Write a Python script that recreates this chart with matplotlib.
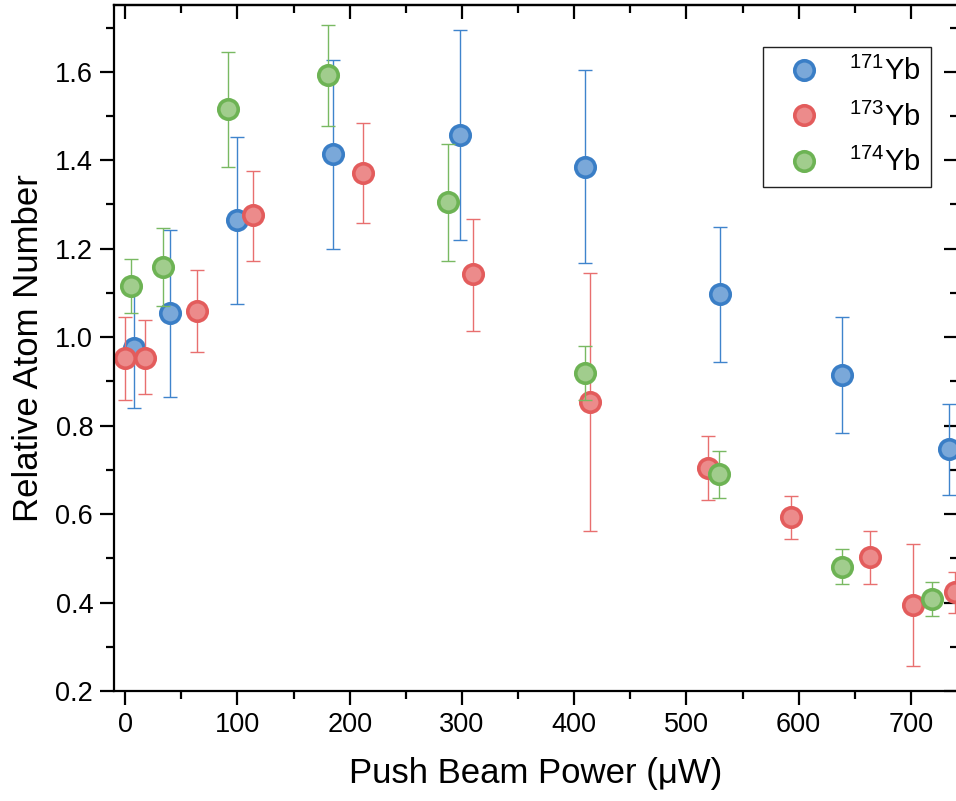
import numpy as np
import matplotlib
matplotlib.use('Agg')
import matplotlib.pyplot as plt
from matplotlib.ticker import MultipleLocator, FormatStrFormatter
from matplotlib.lines import Line2D

plt.rcParams['font.family'] = ['Liberation Sans', 'DejaVu Sans']
plt.rcParams['mathtext.fontset'] = 'custom'
plt.rcParams['mathtext.rm'] = 'Liberation Sans'
plt.rcParams['mathtext.it'] = 'Liberation Sans'

# 171Yb
x171 = [8, 40, 100, 185, 298, 410, 530, 639, 734]
y171 = [0.975, 1.055, 1.265, 1.413, 1.457, 1.385, 1.097, 0.915, 0.747]
lo171 = [0.839, 0.865, 1.075, 1.199, 1.219, 1.167, 0.943, 0.783, 0.643]
hi171 = [1.106, 1.242, 1.453, 1.626, 1.694, 1.603, 1.250, 1.046, 0.850]

# 173Yb
x173 = [0, 18, 64, 114, 212, 310, 414, 519, 593, 664, 702, 739]
y173 = [0.954, 0.954, 1.059, 1.276, 1.372, 1.142, 0.854, 0.705, 0.593, 0.502, 0.394, 0.424]
lo173 = [0.858, 0.871, 0.966, 1.173, 1.259, 1.015, 0.562, 0.632, 0.543, 0.442, 0.257, 0.376]
hi173 = [1.045, 1.039, 1.152, 1.376, 1.485, 1.268, 1.144, 0.777, 0.641, 0.561, 0.532, 0.469]

# 174Yb
x174 = [5, 34, 92, 181, 288, 410, 529, 639, 719]
y174 = [1.115, 1.159, 1.516, 1.592, 1.305, 0.920, 0.690, 0.481, 0.408]
lo174 = [1.054, 1.071, 1.385, 1.478, 1.172, 0.858, 0.637, 0.442, 0.370]
hi174 = [1.176, 1.247, 1.644, 1.705, 1.436, 0.980, 0.743, 0.520, 0.446]

series = [
    (x171, y171, lo171, hi171, r'$^{171}\mathrm{Yb}$', '#7aa8d9', '#3a7ec6', '#3f84cc'),
    (x173, y173, lo173, hi173, r'$^{173}\mathrm{Yb}$', '#ec8b8b', '#e35c5c', '#e86f6f'),
    (x174, y174, lo174, hi174, r'$^{174}\mathrm{Yb}$', '#a1cd8d', '#6db354', '#79b962'),
]

fig = plt.figure(figsize=(9.56, 8.01), dpi=100)
W, H = 956, 801
ax = fig.add_axes([114 / W, (H - 691) / H, (958 - 114) / W, (691 - 5) / H])

handles = []
for x, y, lo, hi, lab, face, edge, ecol in series:
    x = np.array(x)
    y = np.array(y)
    yerr = [y - np.array(lo), np.array(hi) - y]
    ax.errorbar(x, y, yerr=yerr, fmt='none', ecolor=ecol, elinewidth=1.0,
                capsize=5, capthick=1.0)
    ax.plot(x, y, ls='none', marker='o', ms=14, mfc=face, mec=edge, mew=2.6)
    handles.append(Line2D([], [], ls='none', marker='o', ms=14, mfc=face,
                          mec=edge, mew=2.6, label=lab))

ax.set_xlim(-10, 742)
ax.set_ylim(0.2, 1.751)
ax.xaxis.set_major_locator(MultipleLocator(100))
ax.xaxis.set_minor_locator(MultipleLocator(50))
ax.yaxis.set_major_locator(MultipleLocator(0.2))
ax.yaxis.set_minor_locator(MultipleLocator(0.1))
ax.yaxis.set_major_formatter(FormatStrFormatter('%.1f'))

for s in ax.spines.values():
    s.set_linewidth(1.6)

ax.tick_params(which='both', direction='out', width=1.6, labelsize=19.5,
               top=False, right=False)
ax.tick_params(which='major', length=10, pad=5)
ax.tick_params(which='minor', length=5.5)

# inward ticks on top and right
sec_x = ax.secondary_xaxis('top')
sec_x.xaxis.set_major_locator(MultipleLocator(100))
sec_x.xaxis.set_minor_locator(MultipleLocator(50))
sec_x.tick_params(which='both', direction='in', width=1.6, labeltop=False)
sec_x.tick_params(which='major', length=10)
sec_x.tick_params(which='minor', length=5.5)
sec_x.spines['top'].set_linewidth(1.6)

sec_y = ax.secondary_yaxis('right')
sec_y.yaxis.set_major_locator(MultipleLocator(0.2))
sec_y.yaxis.set_minor_locator(MultipleLocator(0.1))
sec_y.tick_params(which='both', direction='in', width=1.6, labelright=False)
sec_y.tick_params(which='major', length=10)
sec_y.tick_params(which='minor', length=5.5)

ax.set_xlabel('Push Beam Power (μW)', fontsize=25, labelpad=14)
ax.set_ylabel('Relative Atom Number', fontsize=25, labelpad=7)

leg = ax.legend(handles=handles, loc='upper right',
                bbox_to_anchor=(931 / W, 1 - 47 / H),
                bbox_transform=fig.transFigure, fontsize=21, frameon=True,
                fancybox=False, framealpha=1, edgecolor='#222222',
                handletextpad=0.5, labelspacing=0.55, borderpad=0.35,
                handlelength=2.1, borderaxespad=0)
leg.get_frame().set_linewidth(1.0)

fig.savefig('out.png', dpi=100)
